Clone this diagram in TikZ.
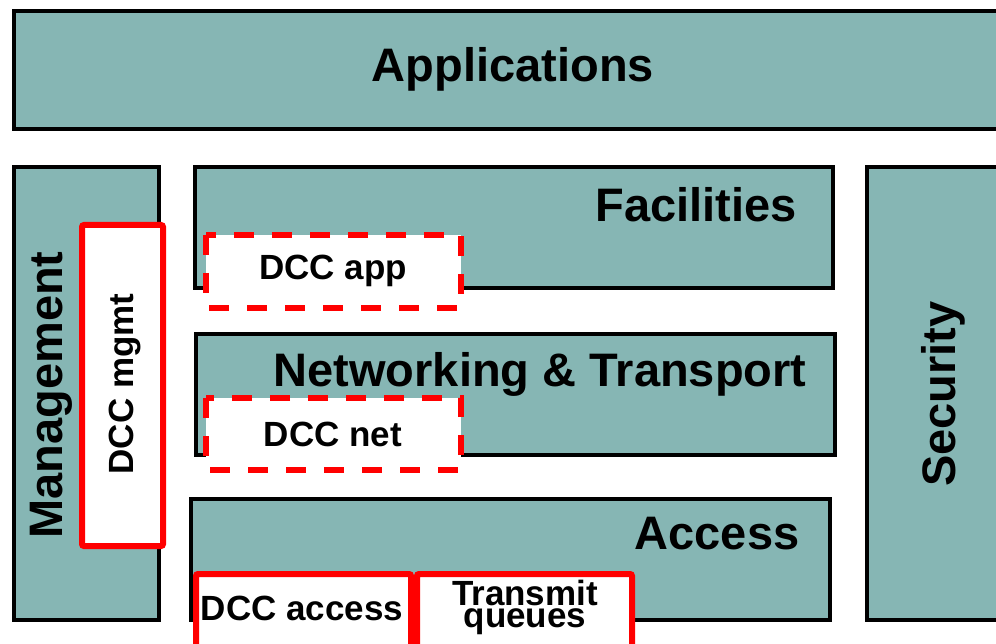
\documentclass[tikz,border=0pt]{standalone}
\usepackage{fontspec}
\setmainfont{Liberation Sans}
\definecolor{layerfill}{RGB}{134,182,180}
\definecolor{dccred}{RGB}{255,0,0}
\begin{document}
\begin{tikzpicture}[x=1pt,y=-1pt,
  layer/.style={draw=black, line width=4pt, fill=layerfill},
  dccsolid/.style={draw=dccred, line width=6pt, fill=white, rounded corners=2pt},
  dccdash/.style={draw=dccred, line width=6pt, fill=white, dash pattern=on 20pt off 18pt},
  big/.style={font=\fontsize{47}{50}\selectfont\bfseries, inner sep=0pt, anchor=base},
  small/.style={font=\fontsize{35}{22}\selectfont\bfseries, inner sep=0pt, anchor=base},
]
\useasboundingbox (0,0) rectangle (996,644);
\clip (0,0) rectangle (996,644);

% layer blocks
\draw[layer] (14,11) rectangle (1010,129);
\draw[layer] (14,167) rectangle (159,620);
\draw[layer] (195,167) rectangle (833,288);
\draw[layer] (196,334) rectangle (835,455);
\draw[layer] (191,499) rectangle (830,620);
\draw[layer] (867,167) rectangle (1010,620);

% DCC components
\draw[dccsolid] (82,225) rectangle (163,546);
\draw[dccdash] (206,235) rectangle (461,308);
\draw[dccdash] (206,398) rectangle (461,470);
\draw[dccsolid] (196,574) rectangle (411,660);
\draw[dccsolid] (417,574) rectangle (632,660);

% layer labels
\node[big] (tApp) at (513,82) {Applications};
\node[big] (tFac) at (696,222) {Facilities};
\node[big] (tNet) at (540,386) {Networking \& Transport};
\node[big] (tAcc) at (717,549) {Access};
\node[big, rotate=90] (tMgmt) at (62,395) {Management};
\node[big, rotate=90] (tSec) at (955,394) {Security};

% DCC labels
\node[small, rotate=90] (tDccMgmt) at (133,384) {DCC mgmt};
\node[small] (tDccApp) at (333,280) {DCC app};
\node[small] (tDccNet) at (333,446) {DCC net};
\node[small] (tDccAcc) at (302,620) {DCC access};
\node[small, anchor=north, align=center] (tTxq) at (525,580) {Transmit\\queues};
\end{tikzpicture}
\end{document}
